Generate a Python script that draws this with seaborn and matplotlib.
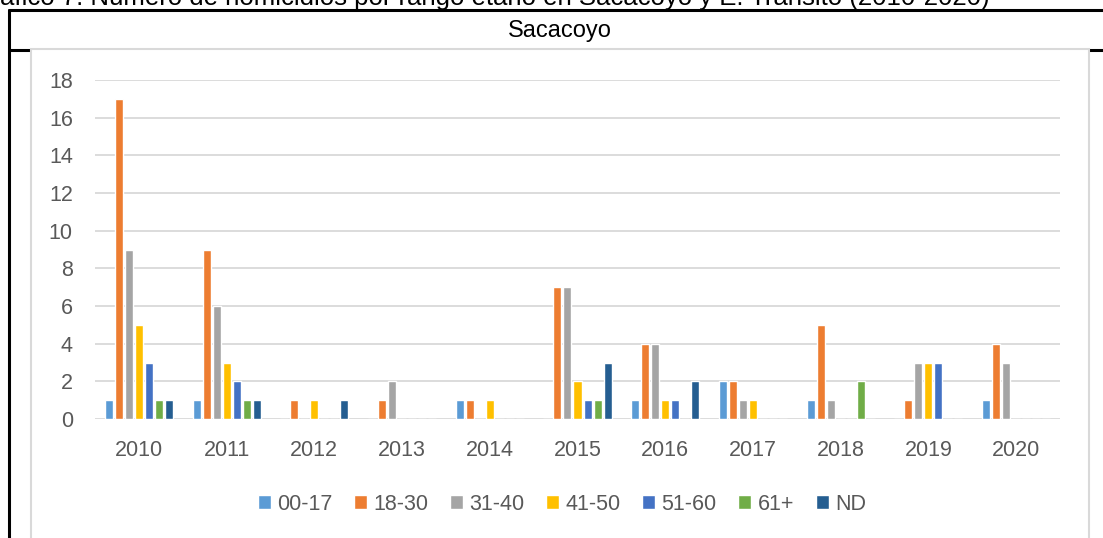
import matplotlib
matplotlib.use('Agg')
import matplotlib.pyplot as plt
import numpy as np
import pandas as pd
import seaborn as sns
from matplotlib.lines import Line2D
from matplotlib.patches import Rectangle

years = ['2010', '2011', '2012', '2013', '2014', '2015', '2016', '2017', '2018', '2019', '2020']
age_groups = ['00-17', '18-30', '31-40', '41-50', '51-60', '61+', 'ND']
colors = ['#5B9BD5', '#ED7D31', '#A5A5A5', '#FFC000', '#4472C4', '#70AD47', '#255E91']

age_00_17 = [1, 1, 0, 0, 1, 0, 1, 2, 1, 0, 1]
age_18_30 = [17, 9, 1, 1, 1, 7, 4, 2, 5, 1, 4]
age_31_40 = [9, 6, 0, 2, 0, 7, 4, 1, 1, 3, 3]
age_41_50 = [5, 3, 1, 0, 1, 2, 1, 1, 0, 3, 0]
age_51_60 = [3, 2, 0, 0, 0, 1, 1, 0, 0, 3, 0]
age_61_plus = [1, 1, 0, 0, 0, 1, 0, 0, 2, 0, 0]
age_nd = [1, 1, 1, 0, 0, 3, 2, 0, 0, 0, 0]

series = [age_00_17, age_18_30, age_31_40, age_41_50, age_51_60, age_61_plus, age_nd]
rows = []
for group, values in zip(age_groups, series):
    for year, v in zip(years, values):
        rows.append({'year': year, 'age': group, 'count': v})
df = pd.DataFrame(rows)

sns.set_style('white')
plt.rcParams['font.family'] = ['Liberation Sans', 'DejaVu Sans']

W, H = 1103, 538
fig = plt.figure(figsize=(W / 100, H / 100), dpi=100)

# outer table lines
fig.add_artist(Line2D([9 / W, 1.0], [1 - 10 / H, 1 - 10 / H], color='black', lw=2.2, zorder=-2))
fig.add_artist(Line2D([9 / W, 9 / W], [0, 1 - 10 / H], color='black', lw=2.2, zorder=-2))
fig.add_artist(Line2D([9 / W, 1.0], [1 - 50 / H, 1 - 50 / H], color='black', lw=2.2, zorder=-2))
# chart area frame
fig.add_artist(Rectangle((31 / W, -0.05), (1089 - 31) / W, (H - 49) / H + 0.05,
                         facecolor='white', edgecolor='#D9D9D9', lw=1.5, zorder=-1))

fig.text(0, 1 - 5 / H, 'áfico 7. Número de homicidios por rango etario en Sacacoyo y E. Tránsito (2010-2020)',
         ha='left', va='baseline', fontsize=18.5, color='black')
fig.text(560 / W, 1 - 31 / H, 'Sacacoyo', ha='center', va='center', fontsize=17,
         color='black')

ax = fig.add_axes([95 / W, 119 / H, (1060 - 95) / W, (419 - 80) / H])
ax.set_zorder(1)
sns.barplot(data=df, x='year', y='count', hue='age', hue_order=age_groups, palette=colors,
            width=0.8, gap=0.2, ax=ax, legend=False, saturation=1)
ax.set_xlim(-0.5, len(years) - 0.5)
ax.set_ylim(0, 18)
ax.set_yticks(np.arange(0, 19, 2))
ax.yaxis.grid(True, color='#D9D9D9', lw=1.3)
ax.set_axisbelow(True)
for s in ['top', 'right', 'left', 'bottom']:
    ax.spines[s].set_visible(False)
ax.tick_params(axis='y', length=0, pad=16, labelsize=15.5, labelcolor='#595959')
ax.tick_params(axis='x', length=0, pad=15, labelsize=15.5, labelcolor='#595959')
ax.set_xlabel('')
ax.set_ylabel('')
ax.patch.set_alpha(0)

handles = [Rectangle((0, 0), 1, 1, facecolor=c) for c in colors]
fig.legend(handles, age_groups, loc='center', bbox_to_anchor=(562 / W, 34 / H), ncol=7,
           frameon=False, fontsize=15.5, labelcolor='#595959', handlelength=0.6, handleheight=0.6,
           handletextpad=0.3, columnspacing=1.0)

fig.savefig('out.png', dpi=100)
